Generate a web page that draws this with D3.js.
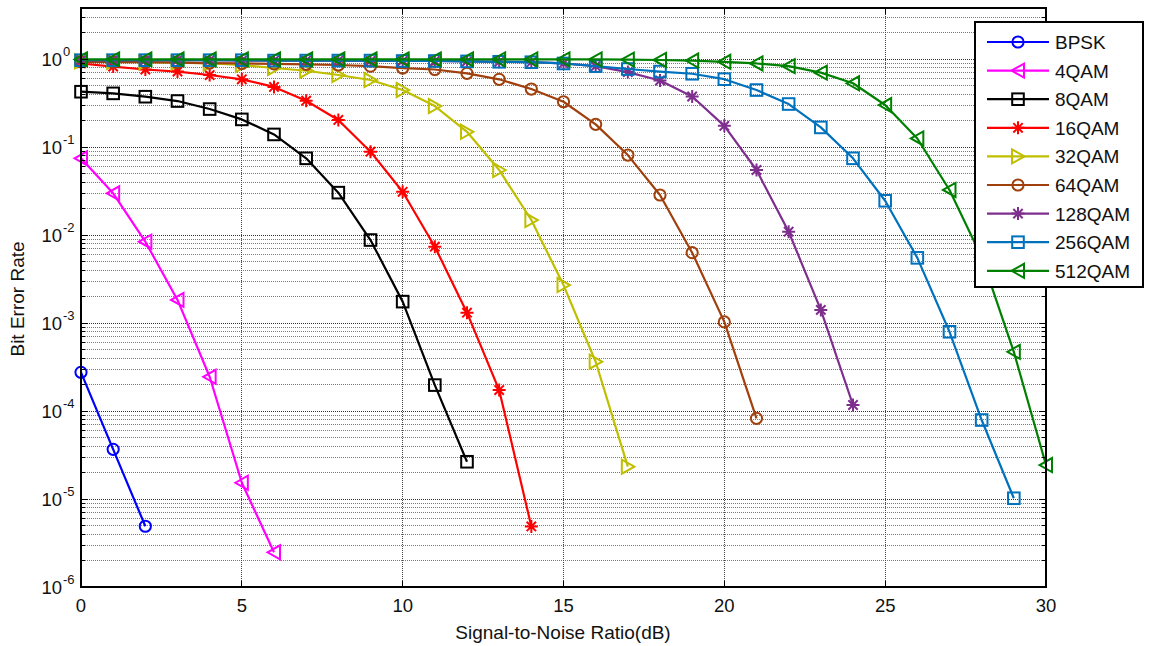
<!DOCTYPE html>
<html>
<head>
<meta charset="utf-8">
<script src="https://cdn.jsdelivr.net/npm/d3@7/dist/d3.min.js"></script>
<style>
  html, body { margin: 0; padding: 0; background: #fff; }
  svg { display: block; font-family: "Liberation Sans", Arial, sans-serif; }
</style>
</head>
<body>
<svg id="chart" width="1149" height="646"></svg>
<script>
// SNR axis (dB); every series starts at 0 dB and uses consecutive points
const snrDb = [0,1,2,3,4,5,6,7,8,9,10,11,12,13,14,15,16,17,18,19,20,21,22,23,24,25,26,27,28,29,30];

const seriesNames = ["BPSK","4QAM","8QAM","16QAM","32QAM","64QAM","128QAM","256QAM","512QAM"];
const seriesColors = ["#0000ff","#ff00ff","#000000","#ff0000","#bfbf00","#a0400c","#7e2f8e","#0072bd","#008000"];
const seriesMarkers = ["o","<","s","*",">","o","*","s","<"];

const berBPSK = [2.75e-4, 3.67e-5, 4.9e-6];
const ber4QAM = [0.0744, 0.0298, 0.0084, 1.83e-3, 2.45e-4, 1.53e-5, 2.48e-6];
const ber8QAM = [0.425, 0.407, 0.373, 0.333, 0.270, 0.206, 0.139, 0.0744, 0.0303, 0.00877, 1.75e-3, 1.97e-4, 2.65e-5];
const ber16QAM = [0.89, 0.82, 0.76, 0.72, 0.658, 0.588, 0.482, 0.336, 0.203, 0.0885, 0.031, 7.36e-3, 1.31e-3, 1.73e-4, 4.88e-6];
const ber32QAM = [0.94, 0.93, 0.92, 0.91, 0.89, 0.855, 0.79, 0.736, 0.658, 0.577, 0.444, 0.292, 0.149, 0.0548, 0.0148, 2.7e-3, 3.63e-4, 2.33e-5];
const ber64QAM = [0.93, 0.92, 0.92, 0.91, 0.9, 0.89, 0.88, 0.87, 0.855, 0.83, 0.79, 0.76, 0.687, 0.588, 0.456, 0.327, 0.181, 0.081, 0.0285, 6.3e-3, 1.03e-3, 8.26e-5];
const ber128QAM = [0.97, 0.97, 0.97, 0.97, 0.97, 0.96, 0.96, 0.96, 0.96, 0.95, 0.95, 0.95, 0.94, 0.93, 0.92, 0.89, 0.83, 0.71, 0.57, 0.375, 0.174, 0.0548, 0.0109, 1.41e-3, 1.17e-4];
const ber256QAM = [0.97, 0.97, 0.97, 0.97, 0.97, 0.97, 0.96, 0.96, 0.96, 0.96, 0.95, 0.95, 0.94, 0.93, 0.92, 0.89, 0.83, 0.77, 0.72, 0.68, 0.59, 0.444, 0.308, 0.167, 0.0744, 0.0245, 5.5e-3, 7.95e-4, 7.9e-5, 1.02e-5];
const ber512QAM = [0.99, 0.99, 0.99, 0.99, 0.99, 0.99, 0.99, 0.99, 0.99, 0.99, 0.99, 0.99, 0.99, 0.99, 0.99, 0.99, 0.99, 0.985, 0.975, 0.96, 0.93, 0.89, 0.83, 0.70, 0.53, 0.30, 0.125, 0.0325, 5.6e-3, 4.7e-4, 2.43e-5];

const seriesValues = [berBPSK, ber4QAM, ber8QAM, ber16QAM, ber32QAM, ber64QAM, ber128QAM, ber256QAM, ber512QAM];

const xTicks = [0, 5, 10, 15, 20, 25, 30];
const yDecades = [-6, -5, -4, -3, -2, -1, 0];

const xLabel = "Signal-to-Noise Ratio(dB)";
const yLabel = "Bit Error Rate";

// ---- layout ----
const L = 81, R = 1046, T = 8, B = 587;
const svg = d3.select("#chart");

const x = d3.scaleLinear().domain([0, 30]).range([L, R]);
const y = d3.scaleLog().domain([1e-6, 3.8]).range([B, T]);

// minor positions: 2..9 within every decade that fits in the domain
const minorVals = [];
for (let e = -6; e <= 0; e++) {
  for (let m = 2; m <= 9; m++) {
    const v = m * Math.pow(10, e);
    if (v <= y.domain()[1]) minorVals.push(v);
  }
}
const majorVals = yDecades.map(e => Math.pow(10, e));

// ---- grid ----
const grid = svg.append("g");
grid.selectAll("line.minor").data(minorVals).join("line")
  .attr("x1", L).attr("x2", R)
  .attr("y1", d => y(d)).attr("y2", d => y(d))
  .attr("stroke", "#7a7a7a").attr("stroke-width", 1)
  .attr("stroke-dasharray", "1,1").attr("shape-rendering", "crispEdges");
grid.selectAll("line.major").data(majorVals).join("line")
  .attr("x1", L).attr("x2", R)
  .attr("y1", d => y(d)).attr("y2", d => y(d))
  .attr("stroke", "#333").attr("stroke-width", 1)
  .attr("stroke-dasharray", "1,1").attr("shape-rendering", "crispEdges");
grid.selectAll("line.vx").data(xTicks.slice(1, -1)).join("line")
  .attr("x1", d => x(d)).attr("x2", d => x(d))
  .attr("y1", T).attr("y2", B)
  .attr("stroke", "#444").attr("stroke-width", 1)
  .attr("stroke-dasharray", "1,1").attr("shape-rendering", "crispEdges");

// ---- markers ----
function drawMarker(g, type, color, cx, cy) {
  const sw = 2;
  if (type === "o") {
    g.append("circle").attr("cx", cx).attr("cy", cy).attr("r", 5.6)
      .attr("fill", "none").attr("stroke", color).attr("stroke-width", sw);
  } else if (type === "s") {
    g.append("rect").attr("x", cx - 5.8).attr("y", cy - 5.8)
      .attr("width", 11.6).attr("height", 11.6)
      .attr("fill", "none").attr("stroke", color).attr("stroke-width", sw);
  } else if (type === "<") {
    g.append("path")
      .attr("d", `M${cx - 6.5},${cy} L${cx + 6},${cy - 7} L${cx + 6},${cy + 7} Z`)
      .attr("fill", "none").attr("stroke", color).attr("stroke-width", sw)
      .attr("stroke-linejoin", "miter");
  } else if (type === ">") {
    g.append("path")
      .attr("d", `M${cx + 6.5},${cy} L${cx - 6},${cy - 7} L${cx - 6},${cy + 7} Z`)
      .attr("fill", "none").attr("stroke", color).attr("stroke-width", sw)
      .attr("stroke-linejoin", "miter");
  } else if (type === "*") {
    // asterisk: plus and cross overlaid
    const r = 6.5, d = r * 0.72;
    const p = `M${cx - r},${cy} L${cx + r},${cy} M${cx},${cy - r} L${cx},${cy + r} ` +
              `M${cx - d},${cy - d} L${cx + d},${cy + d} M${cx - d},${cy + d} L${cx + d},${cy - d}`;
    g.append("path").attr("d", p).attr("fill", "none")
      .attr("stroke", color).attr("stroke-width", 2);
  }
}

// ---- series ----
const line = d3.line().x(d => x(d[0])).y(d => y(d[1]));
const plot = svg.append("g");
seriesValues.forEach((vals, i) => {
  const pts = vals.map((v, k) => [snrDb[k], v]);
  const g = plot.append("g");
  g.append("path").datum(pts).attr("d", line)
    .attr("fill", "none").attr("stroke", seriesColors[i])
    .attr("stroke-width", 2.2).attr("stroke-linejoin", "round");
  pts.forEach(p => drawMarker(g, seriesMarkers[i], seriesColors[i], x(p[0]), y(p[1])));
});

// ---- axes box & ticks ----
const ax = svg.append("g").attr("shape-rendering", "crispEdges");
ax.append("rect").attr("x", L).attr("y", T).attr("width", R - L).attr("height", B - T)
  .attr("fill", "none").attr("stroke", "#000").attr("stroke-width", 1.5);

xTicks.forEach(t => {
  ax.append("line").attr("x1", x(t)).attr("x2", x(t)).attr("y1", B).attr("y2", B - 6)
    .attr("stroke", "#000").attr("stroke-width", 1);
  ax.append("line").attr("x1", x(t)).attr("x2", x(t)).attr("y1", T).attr("y2", T + 6)
    .attr("stroke", "#000").attr("stroke-width", 1);
});
majorVals.forEach(v => {
  [[L, L + 7], [R, R - 7]].forEach(s => ax.append("line")
    .attr("x1", s[0]).attr("x2", s[1]).attr("y1", y(v)).attr("y2", y(v))
    .attr("stroke", "#000").attr("stroke-width", 1));
});
minorVals.forEach(v => {
  [[L, L + 4], [R, R - 4]].forEach(s => ax.append("line")
    .attr("x1", s[0]).attr("x2", s[1]).attr("y1", y(v)).attr("y2", y(v))
    .attr("stroke", "#000").attr("stroke-width", 1));
});

// tick labels
const labels = svg.append("g").attr("fill", "#111");
xTicks.forEach(t => {
  labels.append("text").attr("x", x(t)).attr("y", 612)
    .attr("text-anchor", "middle").attr("font-size", 18.5).text(String(t));
});
yDecades.forEach(e => {
  const yy = y(Math.pow(10, e));
  labels.append("text").attr("x", 62).attr("y", yy + 7)
    .attr("text-anchor", "end").attr("font-size", 18.5).text("10");
  labels.append("text").attr("x", 63).attr("y", yy - 3)
    .attr("text-anchor", "start").attr("font-size", 13).text(String(e));
});

// axis titles
labels.append("text").attr("x", 563).attr("y", 639)
  .attr("text-anchor", "middle").attr("font-size", 19).text(xLabel);
labels.append("text").attr("transform", "translate(24,299) rotate(-90)")
  .attr("text-anchor", "middle").attr("font-size", 19).text(yLabel);

// ---- legend ----
const lg = svg.append("g");
lg.append("rect").attr("x", 975).attr("y", 22).attr("width", 168).attr("height", 265)
  .attr("fill", "#fff").attr("stroke", "#000").attr("stroke-width", 1.2)
  .attr("shape-rendering", "crispEdges");
seriesNames.forEach((name, i) => {
  const cy = 42 + i * 28.6;
  lg.append("line").attr("x1", 987).attr("x2", 1049).attr("y1", cy).attr("y2", cy)
    .attr("stroke", seriesColors[i]).attr("stroke-width", 2.2);
  drawMarker(lg, seriesMarkers[i], seriesColors[i], 1018, cy);
  lg.append("text").attr("x", 1055).attr("y", cy + 7)
    .attr("font-size", 19).attr("fill", "#111").text(name);
});
</script>
</body>
</html>
